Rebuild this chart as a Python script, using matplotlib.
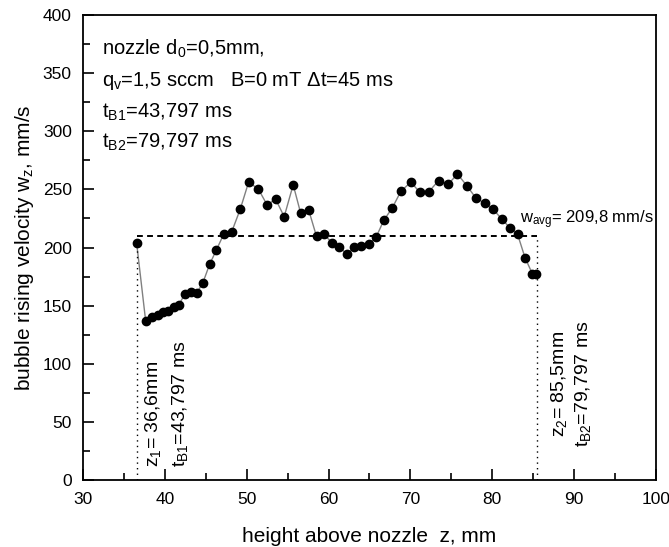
import matplotlib
matplotlib.use("Agg")
import matplotlib.pyplot as plt
import numpy as np
from matplotlib.ticker import MultipleLocator

plt.rcParams['font.family'] = ['Liberation Sans', 'DejaVu Sans']

# bubble position (mm) and rising velocity (mm/s)
z = [36.56, 37.66, 38.39, 39.12, 39.80, 40.42, 41.11, 41.72, 42.45, 43.19,
     43.88, 44.65, 45.47, 46.28, 47.22, 48.16, 49.21, 50.23, 51.40, 52.50,
     53.53, 54.58, 55.68, 56.58, 57.56, 58.53, 59.43, 60.40, 61.29, 62.27,
     63.13, 63.98, 64.92, 65.81, 66.75, 67.79, 68.83, 70.05, 71.15, 72.25,
     73.43, 74.60, 75.75, 76.89, 77.99, 79.05, 80.10, 81.16, 82.14, 83.08,
     84.00, 84.91, 85.40]
w = [203.6, 136.8, 140.5, 142.2, 144.8, 145.4, 149.1, 150.8, 160.0, 161.7,
     160.6, 169.7, 185.5, 197.6, 211.9, 213.3, 232.9, 256.1, 250.6, 236.6,
     241.7, 226.5, 254.0, 229.9, 232.5, 209.6, 211.6, 204.1, 200.4, 194.2,
     200.2, 201.5, 202.8, 209.0, 223.4, 234.2, 248.3, 256.3, 247.5, 248.0,
     257.5, 254.4, 263.2, 253.2, 242.6, 238.3, 232.9, 224.5, 217.0, 211.6,
     191.2, 177.2, 176.9]

z1, z2 = 36.6, 85.5
w_avg = 209.8

fig = plt.figure(figsize=(6.69, 5.47), dpi=100)
ax = fig.add_axes([0.124, 0.1225, 0.8566, 0.85])

ax.plot(z, w, color='#808080', lw=1.0, zorder=2)
ax.plot(z, w, 'o', color='black', ms=6, zorder=3)

# average velocity and the measuring window
ax.plot([z1, z2], [w_avg, w_avg], color='black', lw=1.4, ls=(0, (3, 2.2)))
ax.plot([z1, z1], [0, w_avg], color='black', lw=1.0, ls=(0, (1, 3)))
ax.plot([z2, z2], [0, w_avg], color='black', lw=1.0, ls=(0, (1, 3)))

ax.set_xlim(30, 100)
ax.set_ylim(0, 400)
ax.xaxis.set_major_locator(MultipleLocator(10))
ax.xaxis.set_minor_locator(MultipleLocator(5))
ax.yaxis.set_major_locator(MultipleLocator(50))
ax.yaxis.set_minor_locator(MultipleLocator(25))
ax.tick_params(which='both', direction='in', labelsize=12.5, width=1.2)
ax.tick_params(which='major', length=8)
ax.tick_params(axis='x', which='major', pad=9)
ax.tick_params(axis='y', which='major', pad=8)
ax.tick_params(which='minor', length=5)
for s in ax.spines.values():
    s.set_linewidth(1.3)

ax.set_xlabel('height above nozzle  z, mm', fontsize=15, labelpad=14)
ax.set_ylabel(r'bubble rising velocity w$\mathregular{_z}$, mm/s', fontsize=15, labelpad=5)

txt = dict(fontsize=14.5)
ax.text(32.3, 365.6, r'nozzle d$\mathregular{_0}$=0,5mm,', **txt)
ax.text(32.3, 339, r'q$\mathregular{_v}$=1,5 sccm   B=0 mT $\mathregular{\Delta}$t=45 ms', **txt)
ax.text(32.3, 312, r't$\mathregular{_{B1}}$=43,797 ms', **txt)
ax.text(32.3, 285.6, r't$\mathregular{_{B2}}$=79,797 ms', **txt)

ax.text(83.4, 221, r'w$\mathregular{_{avg}}$= 209,8 mm/s', fontsize=12)

rot = dict(fontsize=14, rotation=90, ha='center', va='bottom')
ax.text(38.5, 11, r'z$\mathregular{_1}$= 36,6mm', **rot)
ax.text(41.9, 11, r't$\mathregular{_{B1}}$=43,797 ms', **rot)
ax.text(88.1, 37, r'z$\mathregular{_2}$= 85,5mm', **rot)
ax.text(91.1, 28.4, r't$\mathregular{_{B2}}$=79,797 ms', **rot)

fig.savefig('out.png', dpi=100)
